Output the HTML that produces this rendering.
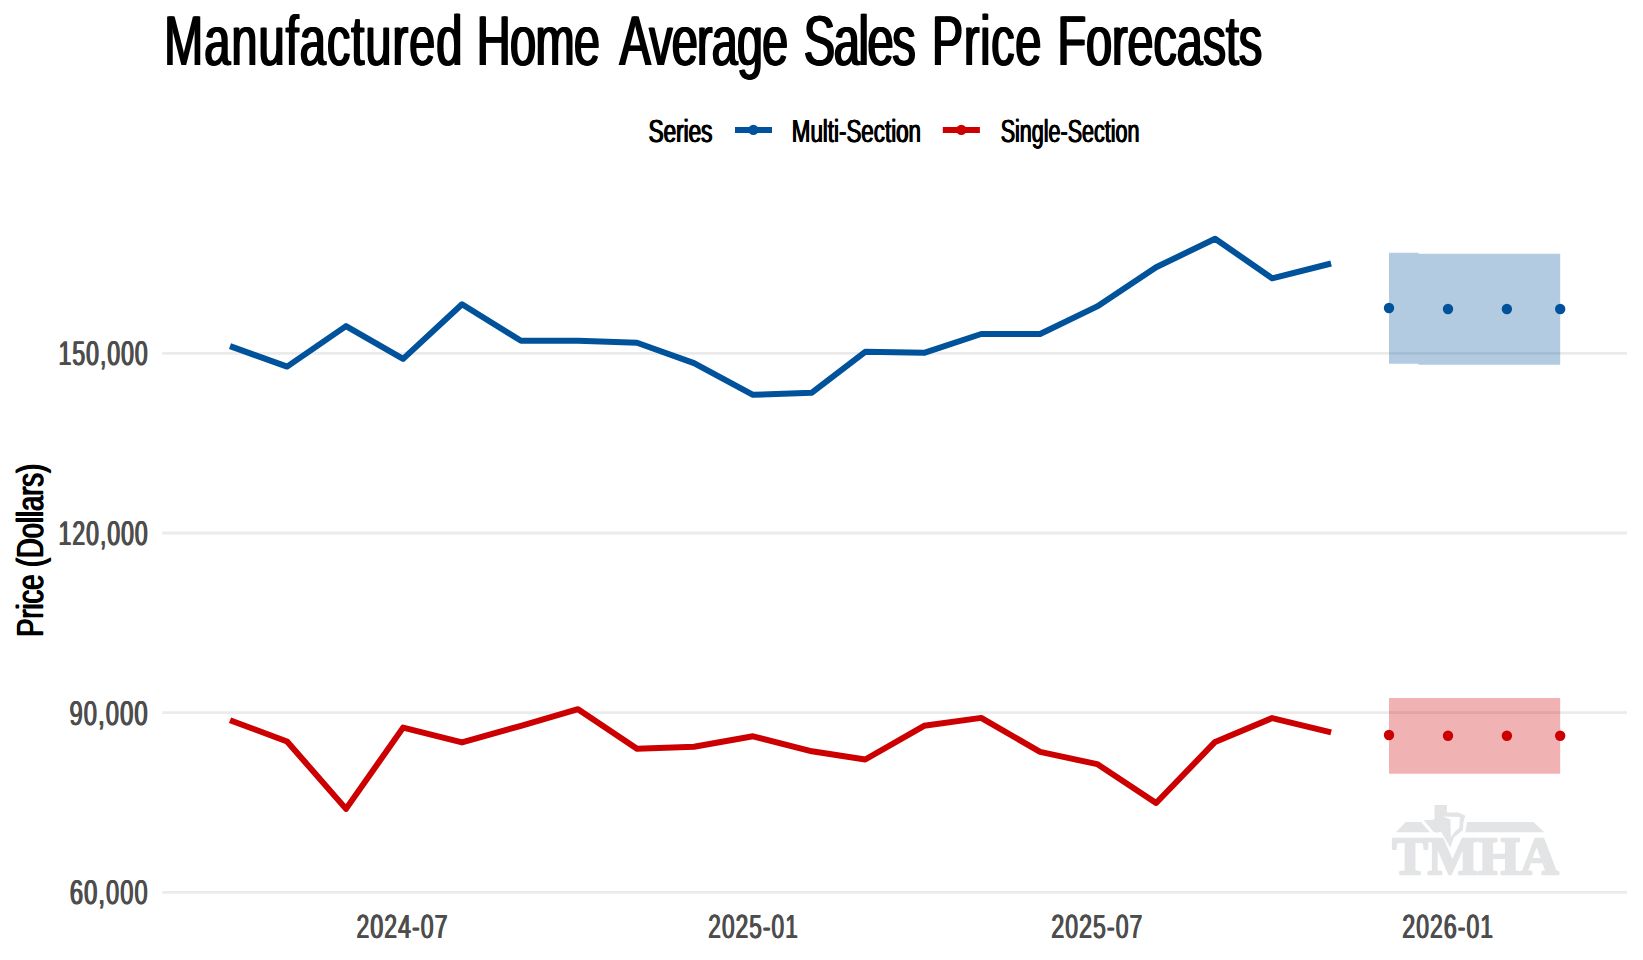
<!DOCTYPE html>
<html lang="en">
<head>
<meta charset="utf-8">
<title>Manufactured Home Average Sales Price Forecasts</title>
<style>
html,body{margin:0;padding:0;background:#ffffff;}
body{position:relative;width:1643px;height:960px;overflow:hidden;font-family:"Liberation Sans",sans-serif;}
svg{position:absolute;left:0;top:0;display:block;}
.t{text-rendering:geometricPrecision;position:absolute;left:0;top:0;white-space:nowrap;line-height:1;transform-origin:0 0;margin:0;padding:0;}
.logo text{font-family:"Liberation Serif",serif;}
</style>
</head>
<body>
<svg width="1643" height="960" viewBox="0 0 1643 960">
<rect x="0" y="0" width="1643" height="960" fill="#ffffff"/>

<g stroke="#EBEBEB" stroke-width="2.8" fill="none">
<line x1="162.2" x2="1627" y1="353.4" y2="353.4"/>
<line x1="162.2" x2="1627" y1="533.0" y2="533.0"/>
<line x1="162.2" x2="1627" y1="712.6" y2="712.6"/>
<line x1="162.2" x2="1627" y1="892.3" y2="892.3"/>
</g>
<g class="logo" fill="#E3E4E6" stroke="none">
<polygon points="1405.8,821.9 1421.0,821.9 1430.0,832.3 1395.9,832.3"/>
<polygon points="1467.2,821.9 1533.4,821.9 1544.3,832.3 1465.2,832.3"/>
<polygon points="1434.5,805 1446.9,805 1446.9,812.4 1458.8,812.6 1465.2,815.7 1463.5,822.2 1462.9,829.9 1458,834.3 1453.9,837.6 1450.3,847.5 1445.8,839.7 1441,831.4 1436.8,832.7 1433.4,831.8 1423.8,820.2 1434.5,819.4"/>
<polygon fill="#ffffff" points="1443,816.6 1459.9,817.1 1459.3,827.8 1453.7,832.9 1450.9,837.6 1450.3,819.4"/>
<text x="1392.2" y="873.6" font-size="52.8" font-weight="bold" textLength="166.4" lengthAdjust="spacingAndGlyphs" stroke="#E3E4E6" stroke-width="2.4" stroke-linejoin="round">TMHA</text>
</g>

<polygon points="1389.0,252.7 1418.5,252.7 1418.5,253.7 1560.2,253.7 1560.2,364.7 1418.5,364.7 1418.5,363.7 1389.0,363.7" fill="#00539B" fill-opacity="0.3"/>
<polygon points="1389.0,697.9 1418.5,697.9 1418.5,697.9 1560.2,697.9 1560.2,773.8 1418.5,773.8 1418.5,773.8 1389.0,773.8" fill="#CC0000" fill-opacity="0.3"/>
<polyline points="230.0,346.2 287.1,366.6 346.0,326.1 403.1,358.9 462.0,304.3 521.0,340.7 578.0,340.8 637.0,342.7 694.0,363.1 753.0,394.8 811.9,392.7 865.2,351.8 924.1,352.8 981.2,334.0 1040.1,334.0 1097.2,306.4 1156.1,267.3 1215.1,238.7 1272.1,278.3 1331.1,263.5" fill="none" stroke="#00539B" stroke-width="6" stroke-linejoin="round" stroke-linecap="butt"/>
<polyline points="230.0,720.2 287.1,741.5 346.0,808.9 403.1,727.6 462.0,742.4 521.0,725.8 578.0,709.2 637.0,748.8 694.0,746.7 753.0,736.3 811.9,751.3 865.2,759.5 924.1,725.8 981.2,717.9 1040.1,751.9 1097.2,764.1 1156.1,803.0 1215.1,741.9 1272.1,718.1 1331.1,732.4" fill="none" stroke="#CC0000" stroke-width="6" stroke-linejoin="round" stroke-linecap="butt"/>
<circle cx="1389.0" cy="308.0" r="5.2" fill="#00539B"/>
<circle cx="1448.0" cy="309.0" r="5.2" fill="#00539B"/>
<circle cx="1506.9" cy="309.0" r="5.2" fill="#00539B"/>
<circle cx="1560.2" cy="309.0" r="5.2" fill="#00539B"/>
<circle cx="1389.0" cy="735.0" r="5.2" fill="#CC0000"/>
<circle cx="1448.0" cy="735.7" r="5.2" fill="#CC0000"/>
<circle cx="1506.9" cy="735.7" r="5.2" fill="#CC0000"/>
<circle cx="1560.2" cy="735.7" r="5.2" fill="#CC0000"/>
<line x1="735" x2="772" y1="129.9" y2="129.9" stroke="#00539B" stroke-width="6"/><circle cx="753.4" cy="129.9" r="5.2" fill="#00539B"/>
<line x1="942.8" x2="979.9" y1="129.9" y2="129.9" stroke="#CC0000" stroke-width="6"/><circle cx="961.3" cy="129.9" r="5.2" fill="#CC0000"/>
</svg>
<div class="t" style="font-size:70.64px;color:#000000;font-weight:normal;word-spacing:5.0px;text-shadow:1.4px 0 0 #000000,-1.4px 0 0 #000000;transform:translate(164.16px,5.70px) scaleX(0.6651);"><span style="letter-spacing:1.5px;word-spacing:-1.0px">Manufactured </span><span style="letter-spacing:-1.0px;word-spacing:11.7px">Home </span><span style="letter-spacing:-1.37px;word-spacing:6.5px">Average </span><span style="letter-spacing:-2.06px;word-spacing:8.7px">Sales </span><span style="letter-spacing:0.93px;word-spacing:2.8px">Price </span><span style="letter-spacing:-0.28px;word-spacing:0px">Forecasts</span></div>
<div class="t" style="font-size:31.98px;color:#000000;font-weight:normal;text-shadow:0.75px 0 0 #000000,-0.75px 0 0 #000000;transform:translate(648.62px,115.03px) scaleX(0.7034);">Series</div>
<div class="t" style="font-size:31.98px;color:#000000;font-weight:normal;text-shadow:0.75px 0 0 #000000,-0.75px 0 0 #000000;transform:translate(791.78px,115.03px) scaleX(0.6994);">Multi-Section</div>
<div class="t" style="font-size:31.98px;color:#000000;font-weight:normal;text-shadow:0.75px 0 0 #000000,-0.75px 0 0 #000000;transform:translate(1000.73px,115.03px) scaleX(0.6725);">Single-Section</div>
<div class="t" style="font-size:34.29px;color:#4D4D4D;font-weight:normal;letter-spacing:1.6px;text-shadow:0.8px 0 0 #4D4D4D,-0.8px 0 0 #4D4D4D;transform:translate(58.60px,336.97px) scaleX(0.6667);">150,000</div>
<div class="t" style="font-size:34.29px;color:#4D4D4D;font-weight:normal;letter-spacing:1.6px;text-shadow:0.8px 0 0 #4D4D4D,-0.8px 0 0 #4D4D4D;transform:translate(58.60px,516.97px) scaleX(0.6667);">120,000</div>
<div class="t" style="font-size:34.29px;color:#4D4D4D;font-weight:normal;letter-spacing:1.6px;text-shadow:0.8px 0 0 #4D4D4D,-0.8px 0 0 #4D4D4D;transform:translate(69.44px,696.97px) scaleX(0.6928);">90,000</div>
<div class="t" style="font-size:34.29px;color:#4D4D4D;font-weight:normal;letter-spacing:1.6px;text-shadow:0.8px 0 0 #4D4D4D,-0.8px 0 0 #4D4D4D;transform:translate(69.84px,876.17px) scaleX(0.6893);">60,000</div>
<div class="t" style="font-size:33.57px;color:#4D4D4D;font-weight:normal;letter-spacing:1.6px;text-shadow:0.8px 0 0 #4D4D4D,-0.8px 0 0 #4D4D4D;transform:translate(356.47px,910.78px) scaleX(0.6853);">2024-07</div>
<div class="t" style="font-size:33.57px;color:#4D4D4D;font-weight:normal;letter-spacing:1.6px;text-shadow:0.8px 0 0 #4D4D4D,-0.8px 0 0 #4D4D4D;transform:translate(708.28px,910.78px) scaleX(0.6739);">2025-01</div>
<div class="t" style="font-size:33.57px;color:#4D4D4D;font-weight:normal;letter-spacing:1.6px;text-shadow:0.8px 0 0 #4D4D4D,-0.8px 0 0 #4D4D4D;transform:translate(1051.37px,910.78px) scaleX(0.6853);">2025-07</div>
<div class="t" style="font-size:33.57px;color:#4D4D4D;font-weight:normal;letter-spacing:1.6px;text-shadow:0.8px 0 0 #4D4D4D,-0.8px 0 0 #4D4D4D;transform:translate(1402.37px,910.78px) scaleX(0.6830);">2026-01</div>
<div class="t" style="font-size:37.65px;color:#000000;font-weight:normal;text-shadow:1.0px 0 0 #000000,-1.0px 0 0 #000000;transform:translate(12.13px,636.81px) rotate(-90deg) scaleX(0.7251);">Price (Dollars)</div>
</body>
</html>
